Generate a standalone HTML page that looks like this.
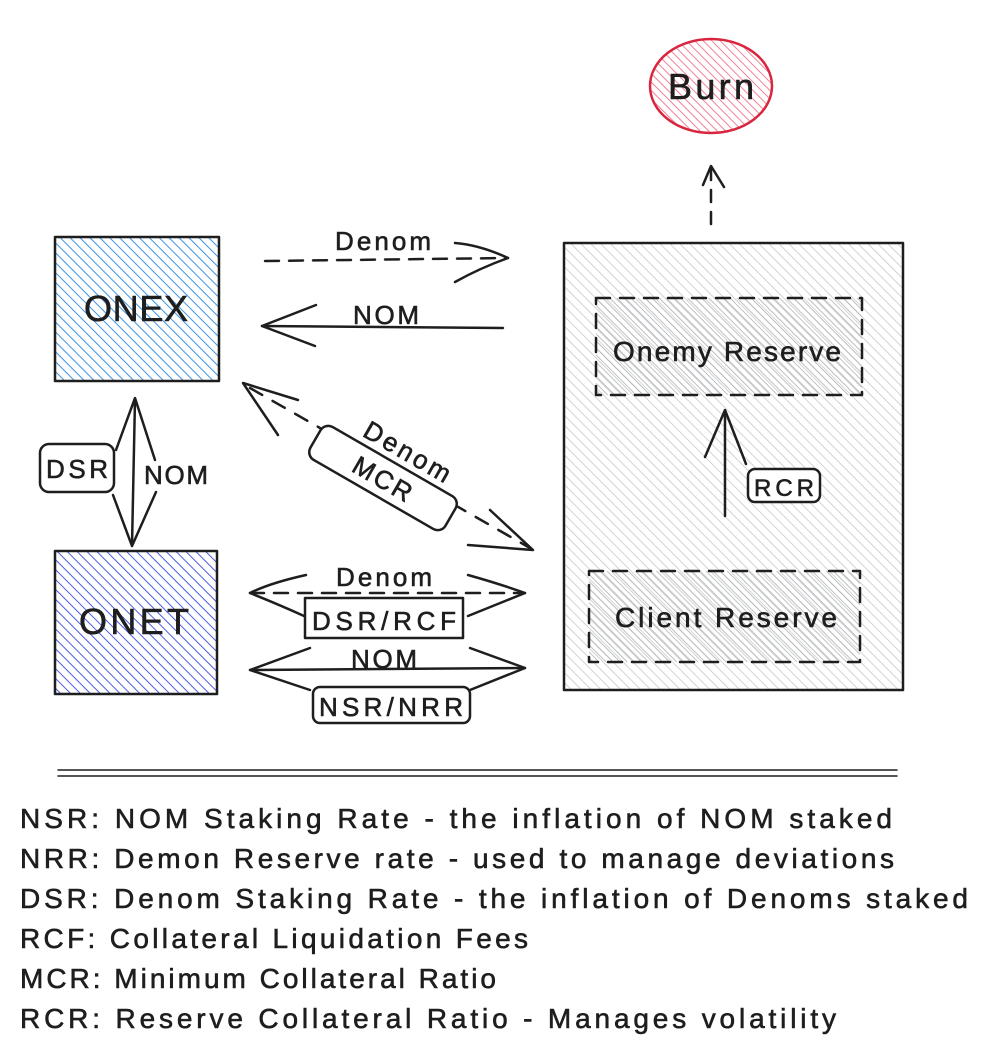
<!DOCTYPE html>
<html><head><meta charset="utf-8"><style>
html,body{margin:0;padding:0;background:#fff}
svg{display:block}
text{font-family:"Liberation Sans",sans-serif;fill:#1e1e1e;stroke:#1e1e1e;stroke-width:0.6}
</style></head><body>
<svg width="988" height="1058" viewBox="0 0 988 1058" xmlns="http://www.w3.org/2000/svg">
<defs>
<pattern id="hb" width="7" height="7" patternUnits="userSpaceOnUse" patternTransform="rotate(-45)"><line x1="0" y1="0" x2="0" y2="7" stroke="#3d93e6" stroke-width="2"/></pattern>
<pattern id="hv" width="7" height="7" patternUnits="userSpaceOnUse" patternTransform="rotate(-45)"><line x1="0" y1="0" x2="0" y2="7" stroke="#4a5de6" stroke-width="2"/></pattern>
<pattern id="hg" width="7" height="7" patternUnits="userSpaceOnUse" patternTransform="rotate(-45)"><line x1="0" y1="0" x2="0" y2="7" stroke="#c2c5c8" stroke-width="1.5"/></pattern>
<pattern id="hd" width="5" height="5" patternUnits="userSpaceOnUse" patternTransform="rotate(-45)"><line x1="0" y1="0" x2="0" y2="5" stroke="#aeb0b3" stroke-width="1.6"/></pattern>
<pattern id="hr" width="6" height="6" patternUnits="userSpaceOnUse" patternTransform="rotate(-45)"><line x1="0" y1="0" x2="0" y2="6" stroke="#ee6a84" stroke-width="1.7"/></pattern>
</defs>
<g stroke="#1e1e1e" stroke-width="2.5" fill="none" stroke-linecap="round" stroke-linejoin="round">
<ellipse cx="711" cy="86" rx="61" ry="47" fill="url(#hr)" stroke="#d8263f"/>
<line x1="711" y1="224" x2="711" y2="168" stroke-dasharray="12 10"/>
<polyline points="703,185 711,166 724,187"/>
<rect x="564" y="243" width="339" height="447" fill="url(#hg)"/>
<rect x="596" y="298" width="266" height="97" fill="url(#hd)" stroke-dasharray="14 10"/>
<rect x="589" y="571" width="271" height="91" fill="url(#hd)" stroke-dasharray="14 10"/>
<line x1="725" y1="516" x2="725" y2="412"/>
<polyline points="705,457 725,410 746,464"/>
<rect x="748" y="469" width="72" height="33" rx="7" fill="#fff"/>
<rect x="55" y="237" width="164" height="144" fill="url(#hb)"/>
<rect x="55" y="551" width="162" height="143" fill="url(#hv)"/>
<line x1="265" y1="261" x2="508" y2="258" stroke-dasharray="14 10"/>
<path d="M455,243 Q480,245 508,258 Q480,268 455,282"/>
<line x1="503" y1="328" x2="262" y2="326"/>
<path d="M316,305 L262,326 L315,346"/>
<line x1="250" y1="388" x2="530" y2="548" stroke-dasharray="14 12"/>
<polyline points="298,400 243,383 278,435"/>
<polyline points="490,510 533,550 468,545"/>
<g transform="translate(383,478) rotate(30)"><rect x="-78" y="-19" width="156" height="38" rx="9" fill="#fff"/></g>
<line x1="135" y1="399" x2="132" y2="546"/>
<polyline points="116,450 135,398 155,460"/>
<polyline points="113,495 132,546 156,492"/>
<rect x="40" y="444" width="74" height="48" rx="9" fill="#fff"/>
<line x1="250" y1="593" x2="525" y2="593" stroke-dasharray="14 10"/>
<path d="M306,575 Q270,583 250,593 Q280,605 304,616"/>
<path d="M468,575 Q500,584 525,593 Q495,605 468,616"/>
<rect x="305" y="598" width="158" height="40" fill="#fff"/>
<line x1="250" y1="670" x2="525" y2="668"/>
<path d="M310,648 L250,670 L310,690"/>
<path d="M470,648 L525,668 L470,690"/>
<rect x="313" y="687" width="157" height="36" rx="7" fill="#fff"/>
<line x1="58" y1="770" x2="897" y2="770" stroke-width="1.5"/>
<line x1="58" y1="776" x2="897" y2="776" stroke-width="1.5"/>
</g>
<text x="711" y="99" font-size="36" text-anchor="middle" textLength="86">Burn</text>
<text x="136" y="321" font-size="36" text-anchor="middle" textLength="104">ONEX</text>
<text x="134" y="634" font-size="36" text-anchor="middle" textLength="110">ONET</text>
<text x="727" y="361" font-size="28" text-anchor="middle" textLength="228" fill="#333">Onemy Reserve</text>
<text x="726" y="627" font-size="28" text-anchor="middle" textLength="222" fill="#333">Client Reserve</text>
<text x="784" y="496" font-size="24" text-anchor="middle" textLength="60">RCR</text>
<text x="383" y="250" font-size="26" text-anchor="middle" textLength="96">Denom</text>
<text x="386" y="324" font-size="26" text-anchor="middle" textLength="66">NOM</text>
<text x="77" y="478" font-size="26" text-anchor="middle" textLength="62">DSR</text>
<text x="176" y="484" font-size="26" text-anchor="middle" textLength="64">NOM</text>
<g transform="translate(383,478) rotate(30)">
<text x="0" y="10" font-size="26" text-anchor="middle" textLength="64">MCR</text>
<text x="8" y="-26" font-size="26" text-anchor="middle" textLength="96">Denom</text>
</g>
<text x="384" y="586" font-size="26" text-anchor="middle" textLength="96">Denom</text>
<text x="384" y="630" font-size="26" text-anchor="middle" textLength="144">DSR/RCF</text>
<text x="384" y="668" font-size="26" text-anchor="middle" textLength="66">NOM</text>
<text x="391" y="716" font-size="26" text-anchor="middle" textLength="144">NSR/NRR</text>
<g font-size="28">
<text x="20" y="828" textLength="872">NSR: NOM Staking Rate - the inflation of NOM staked</text>
<text x="20" y="868" textLength="874">NRR: Demon Reserve rate - used to manage deviations</text>
<text x="20" y="908" textLength="948">DSR: Denom Staking Rate - the inflation of Denoms staked</text>
<text x="20" y="948" textLength="508">RCF: Collateral Liquidation Fees</text>
<text x="20" y="988" textLength="476">MCR: Minimum Collateral Ratio</text>
<text x="20" y="1028" textLength="816">RCR: Reserve Collateral Ratio - Manages volatility</text>
</g>
</svg>
</body></html>
